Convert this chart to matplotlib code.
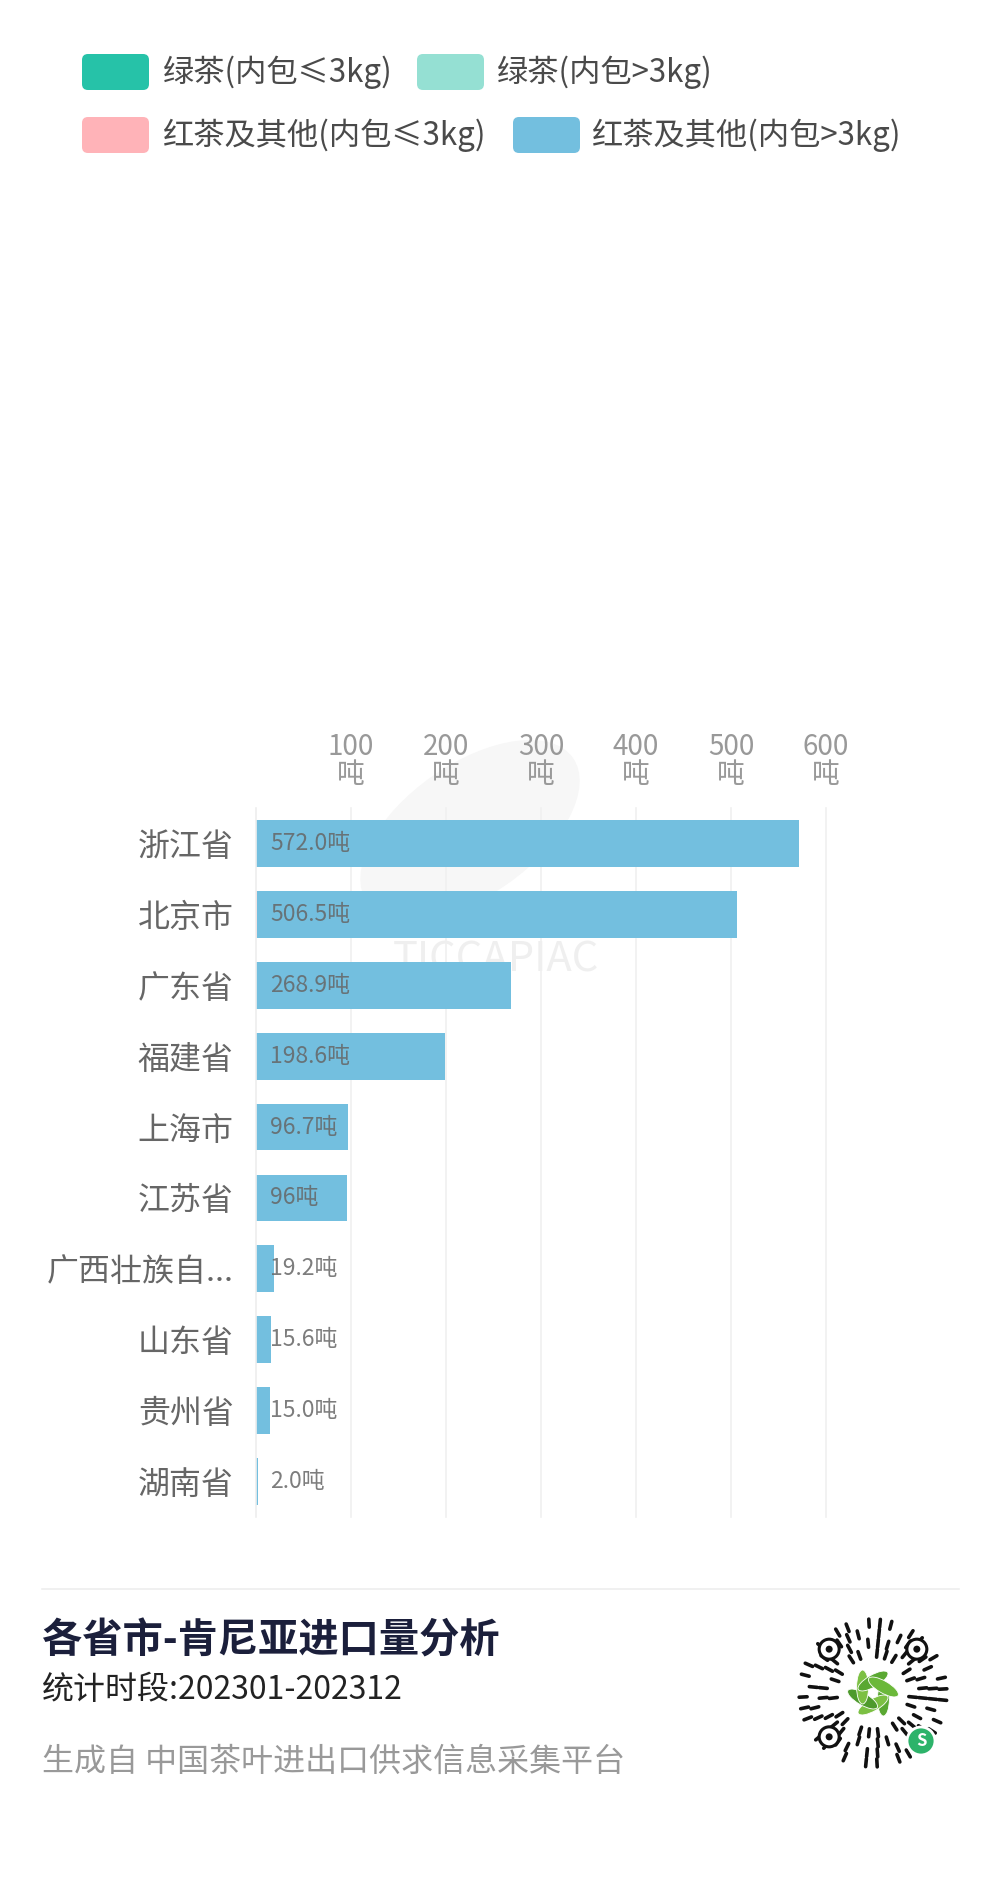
import matplotlib.pyplot as plt
from matplotlib.patches import FancyBboxPatch, Circle, Ellipse
import numpy as np

plt.rcParams['font.family'] = ['Noto Sans CJK SC', 'DejaVu Sans']

# data
provinces = ['浙江省', '北京市', '广东省', '福建省', '上海市', '江苏省',
             '广西壮族自...', '山东省', '贵州省', '湖南省']
green_small = [0, 0, 0, 0, 0, 0, 0, 0, 0, 0]
green_large = [0, 0, 0, 0, 0, 0, 0, 0, 0, 0]
black_small = [0, 1.5, 0, 0, 0, 0, 0, 0, 0, 0]
black_large = [572.0, 505.0, 268.9, 198.6, 96.7, 96.0, 19.2, 15.6, 15.0, 2.0]
value_labels = ['572.0吨', '506.5吨', '268.9吨', '198.6吨', '96.7吨', '96吨',
                '19.2吨', '15.6吨', '15.0吨', '2.0吨']
series_names = ['绿茶(内包≤3kg)', '绿茶(内包>3kg)', '红茶及其他(内包≤3kg)', '红茶及其他(内包>3kg)']
colors = ['#26C2A8', '#95E0D3', '#FFB3B8', '#73BFDF']
xticks = [100, 200, 300, 400, 500, 600]
title = '各省市-肯尼亚进口量分析'
subtitle = '统计时段:202301-202312'
source = '生成自 中国茶叶进出口供求信息采集平台'

W, H = 1000, 1897
fig = plt.figure(figsize=(W / 100, H / 100), dpi=100)
fig.patch.set_facecolor('white')

# background layer in pixel coordinates
bg = fig.add_axes([0, 0, 1, 1])
bg.set_xlim(0, W)
bg.set_ylim(H, 0)
bg.set_axis_off()

# faint watermark
bg.add_patch(Ellipse((470, 830), 250, 130, angle=-35, color='#f7f7f7', zorder=0))
bg.text(496, 960, 'TICCAPIAC', fontsize=30, color='#efefef', ha='center', va='center',
        fontweight='light', zorder=0)

# legend
legend_pos = [(82, 72, 163), (417, 72, 497), (82, 135, 163), (513, 135, 592)]
for (px, py, tx), name, c in zip(legend_pos, series_names, colors):
    bg.add_patch(FancyBboxPatch((px + 6, py - 12), 55, 24,
                                boxstyle='round,pad=6', fc=c, ec='none'))
    bg.text(tx, py, name, fontsize=22.5, color='#4a4a4a', va='center', ha='left')

# chart
left, right, top, bottom = 256, 826, 808, 1517
ax = fig.add_axes([left / W, 1 - bottom / H, (right - left) / W, (bottom - top) / H])
ax.set_facecolor('none')

y = np.arange(len(provinces))
base = np.zeros(len(provinces))
for vals, c in zip([green_small, green_large, black_small, black_large], colors):
    ax.barh(y, vals, left=base, height=0.66, color=c, zorder=2)
    base = base + np.array(vals)

for i, lbl in enumerate(value_labels):
    ax.annotate(lbl, (0, i), xytext=(10, 0), textcoords='offset points',
                fontsize=16.5, color='#666666', alpha=0.85, va='center', ha='left', zorder=3)

ax.set_xlim(0, 600)
ax.set_ylim(len(provinces) - 0.5, -0.5)
ax.set_yticks(y)
ax.set_yticklabels(provinces, fontsize=23, color='#666666')
ax.xaxis.tick_top()
ax.set_xticks(xticks)
ax.set_xticklabels([f'{t}\n吨' for t in xticks], fontsize=20, color='#999999', linespacing=0.9)
ax.tick_params(axis='both', length=0)
ax.tick_params(axis='x', pad=13)
ax.tick_params(axis='y', pad=16)
ax.grid(axis='x', color='#f0f0f0', linewidth=1.2, zorder=0)
ax.set_axisbelow(True)
for s in ['top', 'right', 'bottom']:
    ax.spines[s].set_visible(False)
ax.spines['left'].set_color('#eeeeee')
ax.spines['left'].set_linewidth(1.2)
for gl in ax.get_xgridlines():
    gl.set_clip_on(False)

# footer
bg.plot([42, 959], [1589, 1589], color='#eeeeee', linewidth=1.2)
bg.text(42, 1641, title, fontsize=29, fontweight='bold', color='#1b1f3b', va='center', ha='left')
bg.text(42, 1690, subtitle, fontsize=23, color='#222222', va='center', ha='left')
bg.text(42, 1762, source, fontsize=23, color='#999999', va='center', ha='left')

# mini program code (decorative)
cx, cy = 873, 1693
rings = [
    (40, '1101101110110101101101110110'),
    (50, '10111011010111011011010111011011'),
    (60, '110110101101110110101101110101101101'),
    (70, '1011011101101011011101101011011101101011'),
]
for r, pattern in rings:
    n = len(pattern)
    for k, bit in enumerate(pattern):
        if bit == '1':
            a = 2 * np.pi * k / n + 0.1
            bg.plot([cx + (r - 4) * np.cos(a), cx + (r + 4) * np.cos(a)],
                    [cy + (r - 4) * np.sin(a), cy + (r + 4) * np.sin(a)],
                    color='#111111', linewidth=2.6, solid_capstyle='round')
for ang in [225, 315, 135]:
    a = np.deg2rad(ang)
    fx, fy = cx + 62 * np.cos(a), cy + 62 * np.sin(a)
    bg.add_patch(Circle((fx, fy), 10, fc='white', ec='#111111', lw=2.2, zorder=3))
    bg.add_patch(Circle((fx, fy), 3.5, fc='#111111', ec='none', zorder=4))
bg.add_patch(Circle((cx, cy), 30, fc='white', ec='none', zorder=3))
for ang, c in [(30, '#5aa832'), (90, '#7cc043'), (150, '#4e9a2c'), (210, '#7cc043'),
               (270, '#5aa832'), (330, '#6bb83a')]:
    a = np.deg2rad(ang)
    bg.add_patch(Ellipse((cx + 12 * np.cos(a), cy + 12 * np.sin(a)), 34, 12,
                         angle=ang + 60, fc=c, ec='white', lw=0.6, zorder=4))
bg.add_patch(Circle((cx + 48, cy + 48), 14, fc='#2db36a', ec='white', lw=2, zorder=5))
bg.text(cx + 48, cy + 48, 'S', fontsize=12, color='white', fontweight='bold',
        ha='center', va='center', zorder=6)

fig.savefig('out.png', dpi=100, facecolor='white')
